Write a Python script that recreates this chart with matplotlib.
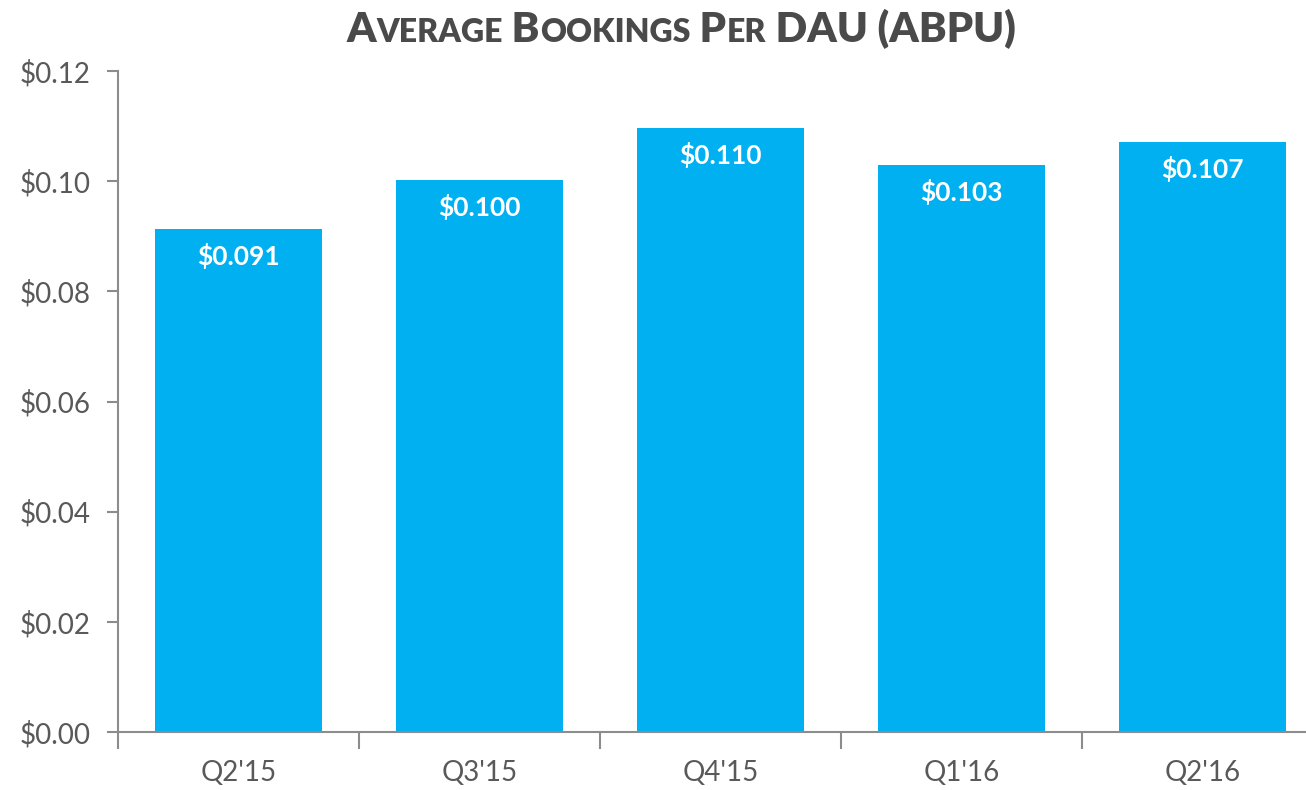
import itertools
import matplotlib
matplotlib.use("Agg")
import matplotlib.pyplot as plt

quarters = ["Q2'15", "Q3'15", "Q4'15", "Q1'16", "Q2'16"]
abpu = [0.0913, 0.1002, 0.1097, 0.1029, 0.1071]
labels = ["$0.091", "$0.100", "$0.110", "$0.103", "$0.107"]
yticks = [0.00, 0.02, 0.04, 0.06, 0.08, 0.10, 0.12]

plt.rcParams['font.family'] = ['Lato', 'DejaVu Sans']
grey = '#595959'
axis_col = '#8c8c8c'

fig = plt.figure(figsize=(13.06, 7.9), dpi=100)
# axis runs past the right edge, like the source slide
ax = fig.add_axes([118 / 1306, 1 - 732 / 790, 1205 / 1306, 661 / 790])

x = range(len(quarters))
bars = ax.bar(x, abpu, width=0.69, color='#00B0F0', zorder=2)
for b, lab in zip(bars, labels):
    ax.annotate(lab, (b.get_x() + b.get_width() / 2, b.get_height()),
                xytext=(0, -27), textcoords='offset pixels',
                ha='center', va='center', color='white',
                fontsize=19, fontweight='bold')

ax.set_xlim(-0.5, len(quarters) - 0.5)
ax.set_ylim(0, 0.12)
ax.set_yticks(yticks)
ax.set_yticklabels(['${:.2f}'.format(v) for v in yticks])
ax.set_xticks(list(x))
ax.set_xticklabels(quarters)
ax.set_xticks([i - 0.5 for i in range(len(quarters) + 1)], minor=True)
ax.tick_params(axis='x', which='major', length=0, pad=20,
               labelsize=20, labelcolor=grey)
ax.tick_params(axis='x', which='minor', length=12, width=1.5,
               color=axis_col)
ax.tick_params(axis='y', length=8, width=1.5, color=axis_col,
               labelsize=20, labelcolor=grey, pad=12)

for side in ['top', 'right']:
    ax.spines[side].set_visible(False)
for side in ['left', 'bottom']:
    ax.spines[side].set_color(axis_col)
    ax.spines[side].set_linewidth(1.5)

# small-caps title
title = "Average Bookings Per DAU (ABPU)"
renderer = fig.canvas.get_renderer()
pieces = []
xpos = 0
for low, chars in itertools.groupby(title, key=str.islower):
    s = ''.join(chars)
    t = fig.text(xpos, 1 - 42 / 790, s.upper() if low else s,
                 fontsize=23 if low else 30, fontweight='heavy',
                 color='#4a4a4a', va='baseline', ha='left')
    xpos += t.get_window_extent(renderer).width / fig.bbox.width
    pieces.append(t)
shift = 681 / 1306 - xpos / 2
for t in pieces:
    t.set_x(t.get_position()[0] + shift)

fig.savefig('out.png', dpi=100)
